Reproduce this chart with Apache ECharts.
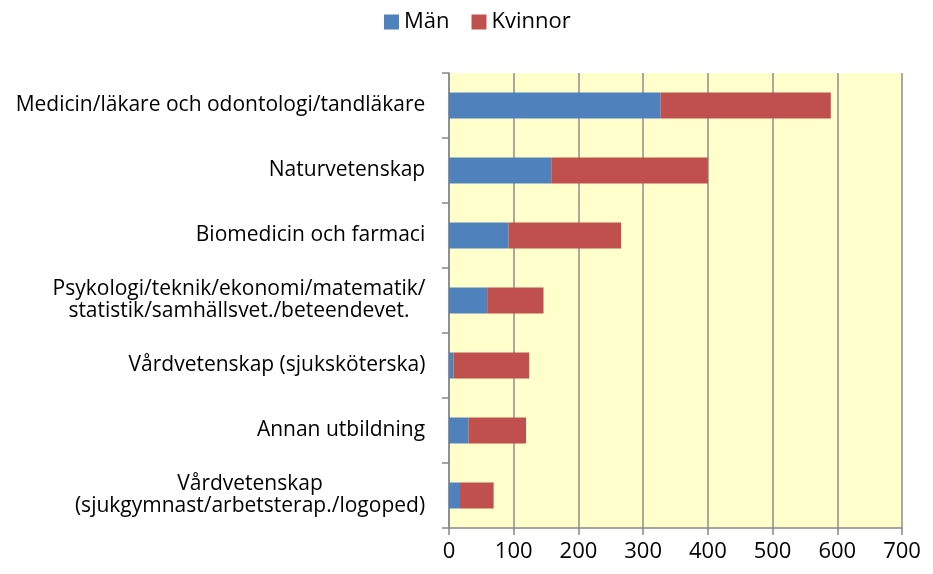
<!DOCTYPE html>
<html lang="sv">
<head>
    <meta charset="UTF-8">
    <title>Utbildning</title>
    <style>
        html, body { margin: 0; padding: 0; background: #fff; }
        #chart { width: 933px; height: 574px; }
    </style>
</head>
<body>
<div id="chart"></div>
<script src="https://cdn.jsdelivr.net/npm/echarts@6/dist/echarts.min.js"></script>
<script>
    // kategorier, uppifrån och ned
    var categories = [
        'Medicin/läkare och odontologi/tandläkare',
        'Naturvetenskap',
        'Biomedicin och farmaci',
        'Psykologi/teknik/ekonomi/matematik/\nstatistik/samhällsvet./beteendevet.',
        'Vårdvetenskap (sjuksköterska)',
        'Annan utbildning',
        'Vårdvetenskap\n(sjukgymnast/arbetsterap./logoped)'
    ];
    var man = [327, 158, 92, 59, 7, 30, 17];
    var kvinnor = [263, 242, 174, 87, 117, 89, 52];
    var xTicks = [0, 100, 200, 300, 400, 500, 600, 700];

    var font = 'Open Sans';
    var labelSize = 21;

    // raderna i en etikett centreras mot varandra, blocket högerställs
    var ctx = document.createElement('canvas').getContext('2d');
    ctx.font = labelSize + 'px "' + font + '"';
    var rich = {};
    categories.forEach(function (c, i) {
        var w = 0;
        c.split('\n').forEach(function (l) { w = Math.max(w, ctx.measureText(l).width); });
        rich['c' + i] = { width: Math.ceil(w) + 1, align: 'center', fontSize: labelSize,
            lineHeight: 22, color: '#000', fontFamily: font };
    });

    var chart = echarts.init(document.getElementById('chart'));

    var option = {
        animation: false,
        textStyle: { fontFamily: font },
        legend: {
            top: 6,
            left: 379,
            itemWidth: 15,
            itemHeight: 15,
            itemGap: 22,
            icon: 'rect',
            textStyle: { fontSize: 22, color: '#000', fontFamily: font },
            data: ['Män', 'Kvinnor']
        },
        grid: {
            left: 449,
            right: 31,
            top: 73,
            bottom: 46,
            show: true,
            backgroundColor: '#FFFFCC',
            borderWidth: 0,
            containLabel: false
        },
        xAxis: {
            type: 'value',
            min: xTicks[0],
            max: xTicks[xTicks.length - 1],
            interval: 100,
            axisLine: { show: true, lineStyle: { color: '#888', width: 1.5 } },
            axisTick: { show: true, length: 7, lineStyle: { color: '#888', width: 1.5 } },
            splitLine: { show: true, lineStyle: { color: '#8c8c8c', width: 1.5 } },
            axisLabel: { fontSize: 22, color: '#000', margin: 13, fontFamily: font }
        },
        yAxis: {
            type: 'category',
            inverse: true,
            data: categories,
            axisLine: { show: true, lineStyle: { color: '#888', width: 1.5 } },
            axisTick: { show: true, length: 7, lineStyle: { color: '#888', width: 1.5 } },
            axisLabel: {
                fontSize: labelSize, color: '#000', margin: 23, lineHeight: 22,
                align: 'right', fontFamily: font,
                formatter: function (v, i) {
                    return v.split('\n').map(function (l) {
                        return '{c' + i + '|' + l + '}';
                    }).join('\n');
                },
                rich: rich
            }
        },
        series: [
            {
                name: 'Män',
                type: 'bar',
                stack: 'tot',
                barWidth: 26,
                itemStyle: { color: '#4F81BD' },
                data: man
            },
            {
                name: 'Kvinnor',
                type: 'bar',
                stack: 'tot',
                barWidth: 26,
                itemStyle: { color: '#C0504D' },
                data: kvinnor
            }
        ]
    };
    chart.setOption(option);
</script>
</body>
</html>
